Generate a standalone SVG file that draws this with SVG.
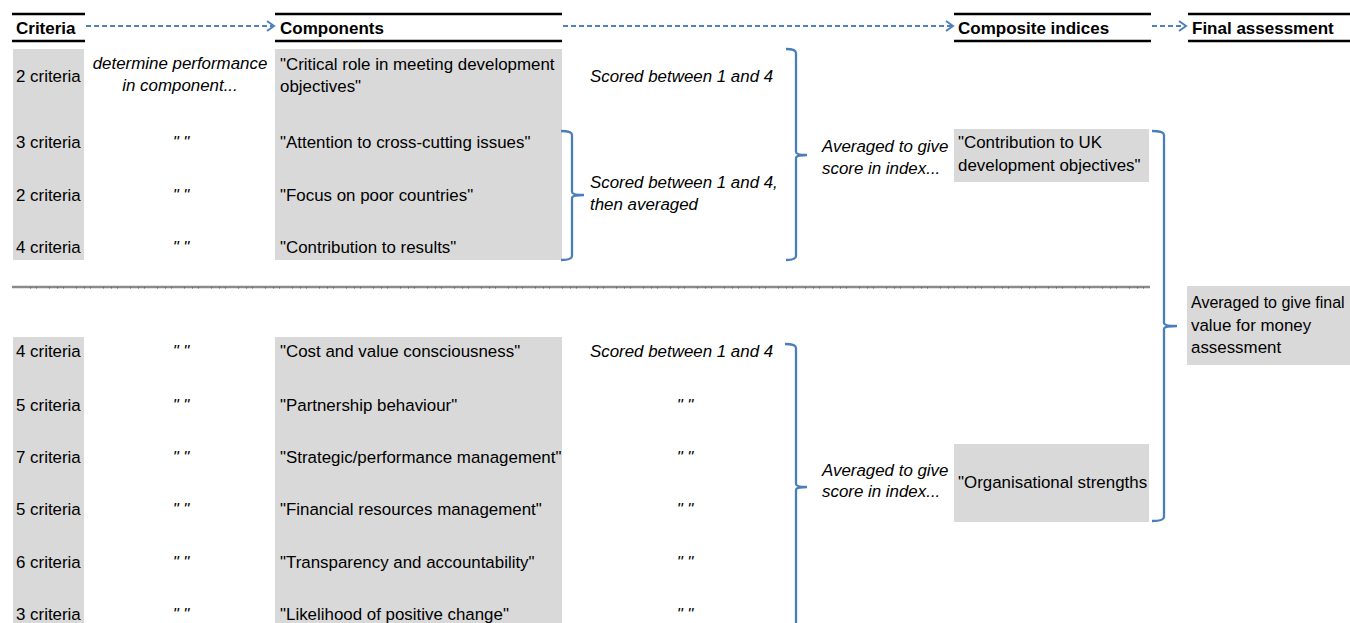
<svg xmlns="http://www.w3.org/2000/svg" width="1350" height="623" viewBox="0 0 1350 623">
<defs>
<marker id="chev" markerUnits="userSpaceOnUse" markerWidth="12" markerHeight="14" refX="10" refY="7" orient="auto">
<path d="M3,2 L10,7 L3,12" fill="none" stroke="#4f81bd" stroke-width="2"/>
</marker>
<style>
text{font-family:"Liberation Sans",Arial,sans-serif;font-size:16.9px;fill:#000}
.h{font-weight:bold;font-size:17px}
.i{font-style:italic}
.m{text-anchor:middle}
.box{fill:#d9d9d9}
.rule{stroke:#000;stroke-width:2.5}
.arrow{fill:none;stroke:#4f81bd;stroke-width:2;stroke-dasharray:5 3}
.brace{fill:none;stroke:#4a7ebb;stroke-width:2.3}
</style>
</defs>
<rect width="1350" height="623" fill="#fff"/>

<g id="headers">
<line class="rule" x1="12" y1="14" x2="85" y2="14"/><line class="rule" x1="12" y1="41" x2="85" y2="41"/>
<text class="h" x="16" y="34">Criteria</text>
<line class="rule" x1="275" y1="14" x2="562" y2="14"/><line class="rule" x1="275" y1="41" x2="562" y2="41"/>
<text class="h" x="280" y="34">Components</text>
<line class="rule" x1="954" y1="14" x2="1151" y2="14"/><line class="rule" x1="954" y1="41" x2="1151" y2="41"/>
<text class="h" x="958" y="34">Composite indices</text>
<line class="rule" x1="1188" y1="14" x2="1350" y2="14"/><line class="rule" x1="1188" y1="41" x2="1350" y2="41"/>
<text class="h" x="1192" y="34">Final assessment</text>
</g>

<g id="criteria-top">
<rect class="box" x="13" y="49" width="71" height="211"/>
<text x="16" y="82">2 criteria</text>
<text x="16" y="148">3 criteria</text>
<text x="16" y="201">2 criteria</text>
<text x="16" y="253">4 criteria</text>
</g>
<g id="criteria-bottom">
<rect class="box" x="13" y="337" width="71" height="286"/>
<text x="16" y="357">4 criteria</text>
<text x="16" y="411">5 criteria</text>
<text x="16" y="463">7 criteria</text>
<text x="16" y="515">5 criteria</text>
<text x="16" y="568">6 criteria</text>
<text x="16" y="620">3 criteria</text>
</g>

<g id="determine">
<text class="i m" x="180" y="69">determine performance</text>
<text class="i m" x="180" y="91">in component...</text>
<text class="i m" x="181" y="148">" "</text>
<text class="i m" x="181" y="201">" "</text>
<text class="i m" x="181" y="253">" "</text>
<text class="i m" x="181" y="357">" "</text>
<text class="i m" x="181" y="411">" "</text>
<text class="i m" x="181" y="463">" "</text>
<text class="i m" x="181" y="515">" "</text>
<text class="i m" x="181" y="568">" "</text>
<text class="i m" x="181" y="620">" "</text>
</g>

<g id="components-top">
<rect class="box" x="275" y="49" width="287" height="211"/>
<text x="280" y="70">"Critical role in meeting development</text>
<text x="280" y="92">objectives"</text>
<text x="280" y="148">"Attention to cross-cutting issues"</text>
<text x="280" y="201">"Focus on poor countries"</text>
<text x="280" y="253">"Contribution to results"</text>
</g>
<g id="components-bottom">
<rect class="box" x="275" y="337" width="287" height="286"/>
<text x="280" y="357">"Cost and value consciousness"</text>
<text x="280" y="411">"Partnership behaviour"</text>
<text x="280" y="463">"Strategic/performance management"</text>
<text x="280" y="515">"Financial resources management"</text>
<text x="280" y="568">"Transparency and accountability"</text>
<text x="280" y="620">"Likelihood of positive change"</text>
</g>

<g id="scoring">
<text class="i" x="590" y="82">Scored between 1 and 4</text>
<text class="i" x="590" y="188">Scored between 1 and 4,</text>
<text class="i" x="590" y="210">then averaged</text>
<text class="i" x="590" y="357">Scored between 1 and 4</text>
<text class="i m" x="685" y="411">" "</text>
<text class="i m" x="685" y="463">" "</text>
<text class="i m" x="685" y="515">" "</text>
<text class="i m" x="685" y="568">" "</text>
<text class="i m" x="685" y="620">" "</text>
</g>

<g id="averaging">
<text class="i" x="822" y="152">Averaged to give</text>
<text class="i" x="822" y="174">score in index...</text>
<text class="i" x="822" y="476">Averaged to give</text>
<text class="i" x="822" y="497">score in index...</text>
</g>

<g id="index-contribution">
<rect class="box" x="954" y="129" width="195" height="53"/>
<text x="958" y="148">"Contribution to UK</text>
<text x="958" y="171">development objectives"</text>
</g>
<g id="index-organisational">
<rect class="box" x="954" y="444" width="195" height="78"/>
<text x="958" y="488">"Organisational strengths</text>
</g>
<g id="final">
<rect class="box" x="1187" y="286" width="163" height="79"/>
<text x="1191" y="308" style="font-size:16px">Averaged to give final</text>
<text x="1191" y="331">value for money</text>
<text x="1191" y="353">assessment</text>
</g>

<g id="separator">
<line x1="12" y1="287" x2="1150" y2="287" stroke="#8a8a8a" stroke-width="2.5"/>
<line x1="30" y1="288" x2="1150" y2="288" stroke="#333" stroke-width="1" stroke-dasharray="1 5 1 12 1 7" stroke-opacity="0.8"/>
</g>

<g id="connectors">
<line class="arrow" x1="86" y1="26" x2="274" y2="26" marker-end="url(#chev)"/>
<line class="arrow" x1="563" y1="26" x2="953" y2="26" marker-end="url(#chev)"/>
<line class="arrow" x1="1152" y1="26" x2="1186" y2="26" marker-end="url(#chev)"/>
<path class="brace" d="M561,131 Q572,131 572,135 V192 Q572,195 584,195 Q572,195 572,198 V256 Q572,260 561,260"/>
<path class="brace" d="M786,49 Q796,49 796,53 V152 Q796,155 807,155 Q796,155 796,158 V256 Q796,260 786,260"/>
<path class="brace" d="M785,344 Q796,344 796,348 V484 Q796,487 807,487 Q796,487 796,490 V640"/>
<path class="brace" d="M1152,131 Q1164,131 1164,135 V323 Q1164,326 1177,326 Q1164,326 1164,329 V517 Q1164,521 1152,521"/>
</g>
</svg>
